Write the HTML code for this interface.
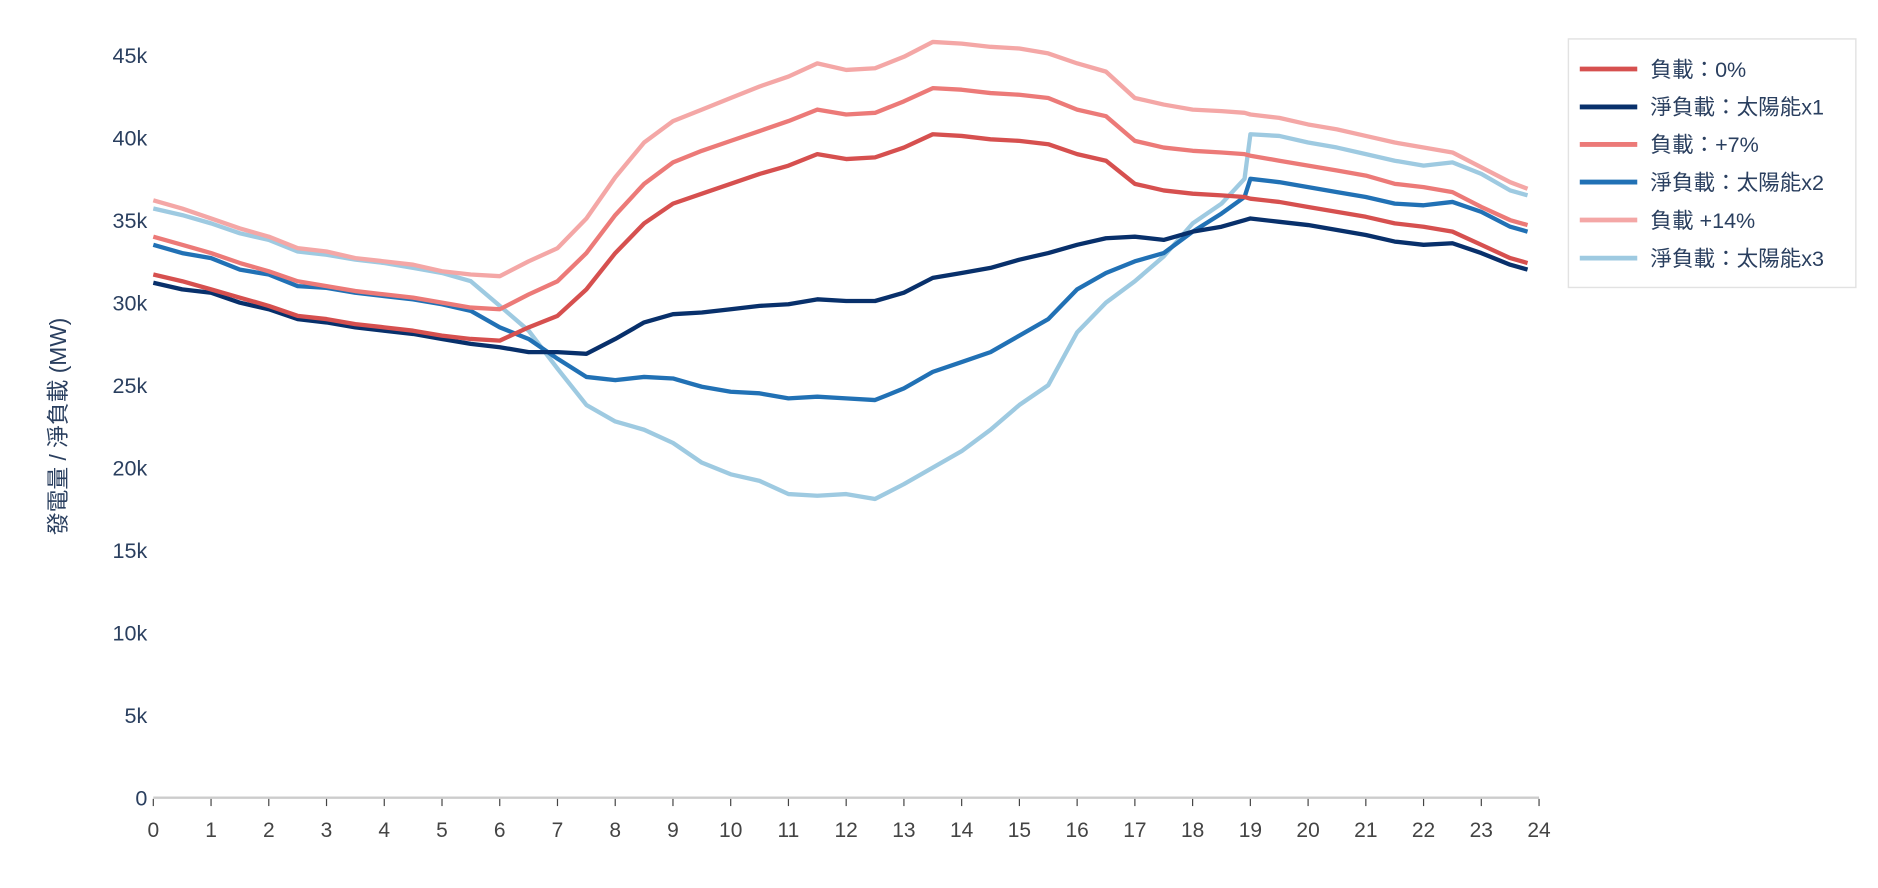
<!DOCTYPE html>
<html><head><meta charset="utf-8"><style>
html,body{margin:0;padding:0;background:#fff;}
svg{display:block;font-family:"Liberation Sans","Noto Sans CJK TC",sans-serif;}
</style></head><body>
<svg id="chart" width="1878" height="888" viewBox="0 0 1568 741.4" preserveAspectRatio="none" xmlns="http://www.w3.org/2000/svg">
<g id="yticks"></g><g id="xticks"></g><g id="lines"></g>
<text transform="translate(55,356) rotate(-90)" text-anchor="middle" font-size="19" fill="#2a3f5f">發電量 / 淨負載 (MW)</text>
<g id="legend"></g>
</svg>
<script>
const hours=[0,0.5,1,1.5,2,2.5,3,3.5,4,4.5,5,5.5,6,6.5,7,7.5,8,8.5,9,9.5,10,10.5,11,11.5,12,12.5,13,13.5,14,14.5,15,15.5,16,16.5,17,17.5,18,18.5,18.9,19,19.5,20,20.5,21,21.5,22,22.5,23,23.5,23.8];
const load0=[31.7,31.3,30.8,30.3,29.8,29.2,29.0,28.7,28.5,28.3,28.0,27.8,27.7,28.5,29.2,30.8,33.0,34.8,36.0,36.6,37.2,37.8,38.3,39.0,38.7,38.8,39.4,40.2,40.1,39.9,39.8,39.6,39.0,38.6,37.2,36.8,36.6,36.5,36.4,36.3,36.1,35.8,35.5,35.2,34.8,34.6,34.3,33.5,32.7,32.4];
const load7=[34.0,33.5,33.0,32.4,31.9,31.3,31.0,30.7,30.5,30.3,30.0,29.7,29.6,30.5,31.3,33.0,35.3,37.2,38.5,39.2,39.8,40.4,41.0,41.7,41.4,41.5,42.2,43.0,42.9,42.7,42.6,42.4,41.7,41.3,39.8,39.4,39.2,39.1,39.0,38.9,38.6,38.3,38.0,37.7,37.2,37.0,36.7,35.8,35.0,34.7];
const load14=[36.2,35.7,35.1,34.5,34.0,33.3,33.1,32.7,32.5,32.3,31.9,31.7,31.6,32.5,33.3,35.1,37.6,39.7,41.0,41.7,42.4,43.1,43.7,44.5,44.1,44.2,44.9,45.8,45.7,45.5,45.4,45.1,44.5,44.0,42.4,42.0,41.7,41.6,41.5,41.4,41.2,40.8,40.5,40.1,39.7,39.4,39.1,38.2,37.3,36.9];
const net1=[31.2,30.8,30.6,30.0,29.6,29.0,28.8,28.5,28.3,28.1,27.8,27.5,27.3,27.0,27.0,26.9,27.8,28.8,29.3,29.4,29.6,29.8,29.9,30.2,30.1,30.1,30.6,31.5,31.8,32.1,32.6,33.0,33.5,33.9,34.0,33.8,34.3,34.6,35.0,35.1,34.9,34.7,34.4,34.1,33.7,33.5,33.6,33.0,32.3,32.0];
const net2=[33.5,33.0,32.7,32.0,31.7,31.0,30.9,30.6,30.4,30.2,29.9,29.5,28.5,27.8,26.6,25.5,25.3,25.5,25.4,24.9,24.6,24.5,24.2,24.3,24.2,24.1,24.8,25.8,26.4,27.0,28.0,29.0,30.8,31.8,32.5,33.0,34.3,35.4,36.4,37.5,37.3,37.0,36.7,36.4,36.0,35.9,36.1,35.5,34.6,34.3];
const net3=[35.7,35.3,34.8,34.2,33.8,33.1,32.9,32.6,32.4,32.1,31.8,31.3,29.8,28.3,26.0,23.8,22.8,22.3,21.5,20.3,19.6,19.2,18.4,18.3,18.4,18.1,19.0,20.0,21.0,22.3,23.8,25.0,28.2,30.0,31.3,32.8,34.8,36.0,37.5,40.2,40.1,39.7,39.4,39.0,38.6,38.3,38.5,37.8,36.8,36.5];
const yTickVals=[0,5,10,15,20,25,30,35,40,45];
const yTickLabels=["0","5k","10k","15k","20k","25k","30k","35k","40k","45k"];
const xTickVals=[0,1,2,3,4,5,6,7,8,9,10,11,12,13,14,15,16,17,18,19,20,21,22,23,24];
const seriesNames=["負載：0%","淨負載：太陽能x1","負載：+7%","淨負載：太陽能x2","負載 +14%","淨負載：太陽能x3"];
const seriesData=[load0,net1,load7,net2,load14,net3];
const colors=["#d6504f","#08306b","#ec7a78","#2171b5","#f4a7a6","#9ecae1"];
const drawOrder=[5,4,3,2,1,0];
const NS="http://www.w3.org/2000/svg";
const X=h=>128+h*(1285-128)/24;
const Y=v=>666-v*(666-46)/45;
function mk(t,a,p){const e=document.createElementNS(NS,t);for(const k in a)e.setAttribute(k,a[k]);p.appendChild(e);return e;}
const yt=document.getElementById('yticks');
yTickVals.forEach((v,i)=>{const t=mk('text',{x:123,y:Y(v)+6.5,'text-anchor':'end','font-size':18,fill:'#2a3f5f'},yt);t.textContent=yTickLabels[i];

});
const xt=document.getElementById('xticks');
const ax=mk('line',{x1:128,x2:1285,y1:666,y2:666,stroke:'#cccccc','stroke-width':2},xt);


xTickVals.forEach(v=>{mk('line',{x1:X(v),x2:X(v),y1:667,y2:673,stroke:'#444','stroke-width':1},xt);
const t=mk('text',{x:X(v),y:699,'text-anchor':'middle','font-size':17.5,fill:'#444'},xt);t.textContent=v;

});
const lg=document.getElementById('lines');
drawOrder.forEach(i=>{const d=seriesData[i].map((v,j)=>(j?'L':'M')+X(hours[j]).toFixed(1)+','+Y(v).toFixed(1)).join('');
const p=mk('path',{d:d,fill:'none',stroke:colors[i],'stroke-width':3.6,'stroke-linejoin':'round'},lg);

});
const leg=document.getElementById('legend');
mk('rect',{x:1309.5,y:32.5,width:240,height:207.5,fill:'#fff',stroke:'#e2e2e2','stroke-width':1.2},leg);
const rows=[57.6,89.3,120.6,152,183.7,215.5];
seriesNames.forEach((n,i)=>{mk('line',{x1:1319,x2:1367,y1:rows[i],y2:rows[i],stroke:colors[i],'stroke-width':4},leg);
const t=mk('text',{x:1378,y:rows[i]+6.5,'font-size':18,fill:'#2a3f5f'},leg);t.textContent=n;

});
</script>
</body></html>
